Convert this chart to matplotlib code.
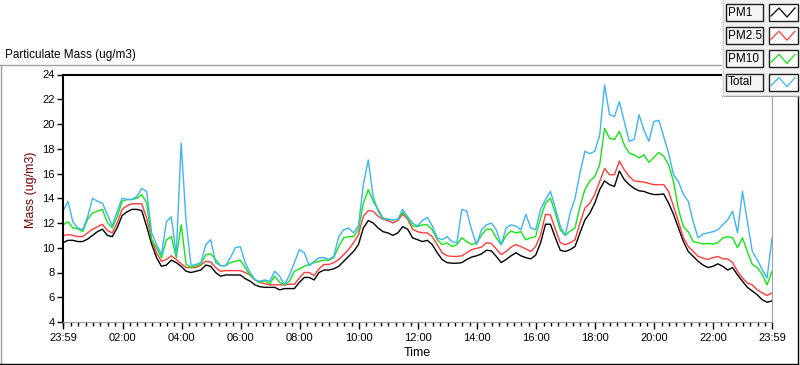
import numpy as np
import matplotlib
matplotlib.use('Agg')
import matplotlib.pyplot as plt
from matplotlib.patches import Rectangle

plt.rcParams['font.family'] = ['Liberation Sans', 'DejaVu Sans']

# minutes after 23:59, one reading every 10 minutes
minutes = np.arange(0, 1441, 10)

pm1 = [10.4, 10.6, 10.6, 10.5, 10.5, 10.7, 11.0, 11.3, 11.5, 11.0, 10.9, 11.6,
       12.6, 12.9, 13.1, 13.1, 13.0, 11.7, 10.3, 9.2, 8.5, 8.6, 9.0, 8.8,
       8.5, 8.1, 8.0, 8.1, 8.2, 8.6, 8.5, 8.0, 7.7, 7.8, 7.8, 7.8,
       7.8, 7.5, 7.3, 7.0, 6.85, 6.8, 6.8, 6.8, 6.6, 6.7, 6.7, 6.7,
       7.2, 7.6, 7.6, 7.4, 8.0, 8.2, 8.2, 8.3, 8.5, 8.9, 9.3, 9.7,
       10.25, 11.6, 12.2, 12.0, 11.6, 11.3, 11.2, 11.0, 11.2, 11.7, 11.5, 10.8,
       10.65, 10.5, 10.6, 10.25, 9.6, 9.05, 8.8, 8.75, 8.75, 8.8, 9.05, 9.25,
       9.35, 9.5, 9.8, 9.75, 9.3, 8.8, 9.05, 9.35, 9.6, 9.35, 9.2, 9.1,
       9.4, 10.4, 11.9, 11.9, 10.8, 9.8, 9.7, 9.85, 10.1, 11.2, 12.25, 12.8,
       13.6, 14.7, 15.4, 15.1, 14.95, 16.2, 15.5, 15.1, 14.8, 14.6, 14.55, 14.4,
       14.3, 14.3, 14.35, 13.6, 12.7, 11.6, 10.5, 9.7, 9.3, 8.9, 8.6, 8.4,
       8.5, 8.7, 8.5, 8.2, 8.4, 7.8, 7.3, 6.8, 6.5, 6.2, 5.8, 5.6,
       5.7]

pm25 = [11.0, 11.05, 11.0, 10.9, 10.9, 11.2, 11.5, 11.7, 11.9, 11.4, 11.2, 12.0,
        13.1, 13.4, 13.55, 13.55, 13.55, 12.4, 10.65, 9.6, 8.9, 9.05, 9.35, 9.05,
        8.7, 8.4, 8.4, 8.4, 8.6, 8.9, 8.85, 8.4, 8.1, 8.15, 8.15, 8.15,
        8.15, 8.0, 7.8, 7.4, 7.2, 7.1, 7.0, 7.0, 7.0, 7.0, 7.05, 7.05,
        7.55, 8.0, 8.0, 7.75, 8.3, 8.65, 8.65, 8.8, 9.05, 9.45, 9.85, 10.4,
        11.05, 12.55, 13.0, 12.95, 12.55, 12.3, 12.2, 12.0, 12.2, 12.7, 12.3, 11.5,
        11.3, 11.2, 11.2, 10.9, 10.25, 9.6, 9.35, 9.3, 9.3, 9.35, 9.6, 9.85,
        9.95, 10.05, 10.4, 10.35, 9.9, 9.45, 9.7, 10.05, 10.25, 10.1, 9.9, 9.7,
        10.1, 11.05, 12.7, 12.65, 11.5, 10.4, 10.25, 10.4, 10.65, 12.0, 13.2, 13.6,
        14.3, 15.35, 16.4, 15.9, 15.9, 17.0, 16.3, 15.75, 15.4, 15.35, 15.3, 15.2,
        15.1, 15.1, 15.1, 14.55, 13.35, 12.1, 10.8, 10.1, 9.7, 9.3, 9.15, 9.05,
        9.2, 9.3, 9.1, 9.1, 8.8, 8.1, 7.55, 7.15, 7.0, 6.6, 6.35, 6.15,
        6.35]

pm10 = [11.85, 12.1, 11.6, 11.55, 11.3, 12.3, 12.8, 12.95, 13.1, 12.05, 11.6, 12.5,
        13.75, 13.9, 13.9, 14.0, 14.3, 13.6, 10.65, 10.0, 9.2, 10.65, 10.9, 9.2,
        11.85, 8.65, 8.4, 8.55, 8.65, 9.45, 9.5, 9.05, 8.55, 8.55, 8.8, 8.9,
        9.0, 8.4, 7.8, 7.4, 7.2, 7.35, 7.1, 7.7, 7.2, 7.0, 7.3, 8.1,
        8.3, 8.5, 8.65, 8.8, 8.9, 9.0, 9.0, 9.2, 10.1, 10.8, 10.9, 10.9,
        11.45, 13.6, 14.7, 13.75, 13.1, 12.4, 12.3, 12.25, 12.3, 12.85, 12.4, 11.75,
        11.7, 11.85, 11.85, 11.45, 10.65, 10.25, 10.4, 10.1, 10.25, 10.8, 10.5, 10.25,
        10.4, 11.0, 11.5, 11.5, 10.8, 10.25, 11.0, 11.35, 11.2, 11.3, 10.65, 10.8,
        10.9, 12.4, 13.6, 14.0, 12.8, 11.45, 11.0, 11.35, 11.6, 13.35, 14.7, 15.4,
        15.75, 16.7, 19.65, 18.85, 18.75, 19.4, 18.3, 17.65, 17.5, 17.25, 17.5, 16.9,
        17.3, 17.7, 17.4, 16.7, 15.35, 13.1, 11.7, 11.3, 10.5, 10.4, 10.3, 10.35,
        10.3, 10.4, 10.8, 10.9, 10.8, 10.0, 10.8, 9.7, 8.65, 8.4, 7.85, 7.0,
        8.1]

total = [12.95, 13.75, 12.1, 11.6, 11.45, 12.5, 14.0, 13.75, 13.6, 12.7, 11.75, 12.95,
         14.0, 13.9, 13.9, 14.15, 14.8, 14.55, 11.2, 10.25, 9.45, 12.1, 12.5, 9.45,
         18.45, 12.1, 8.55, 8.65, 8.8, 10.25, 10.65, 8.8, 8.55, 8.55, 9.2, 10.0,
         10.1, 8.8, 8.0, 7.4, 7.3, 7.4, 7.3, 8.1, 7.7, 7.0, 7.8, 8.8,
         9.85, 9.6, 8.55, 8.9, 9.2, 9.2, 9.05, 9.3, 10.9, 11.45, 11.6, 11.2,
         11.75, 15.1, 17.1, 14.15, 12.95, 12.3, 12.3, 12.25, 12.3, 13.1, 12.5, 12.0,
         11.75, 12.2, 12.45, 11.75, 10.8, 10.65, 10.9, 10.5, 10.4, 13.1, 12.95, 11.45,
         10.25, 11.45, 11.85, 12.0, 11.45, 10.25, 11.6, 11.85, 11.75, 11.45, 12.7, 11.6,
         11.45, 13.1, 13.9, 14.55, 13.2, 11.75, 11.0, 12.8, 14.0, 16.05, 17.8, 17.6,
         17.8, 19.1, 23.15, 20.75, 20.6, 21.8, 20.2, 18.6, 18.75, 20.75, 19.5, 18.6,
         20.2, 20.3, 19.0, 17.65, 15.9, 15.35, 14.3, 13.75, 12.1, 10.8, 11.1, 11.2,
         11.3, 11.45, 11.85, 12.25, 12.95, 11.2, 14.55, 12.1, 9.7, 9.05, 8.25, 7.55,
         10.8]

series_names = ['PM1', 'PM2.5', 'PM10', 'Total']
series_colors = ['#000000', '#ff3c3c', '#14e614', '#3cb4f5']

tick_pos = [0, 121, 241, 361, 481, 601, 721, 841, 961, 1081, 1201, 1321, 1440]
tick_lab = ['23:59', '02:00', '04:00', '06:00', '08:00', '10:00', '12:00',
            '14:00', '16:00', '18:00', '20:00', '22:00', '23:59']
y_ticks = np.arange(4, 25, 2)

W, H = 800, 365
fig = plt.figure(figsize=(8, 3.65), dpi=100)

# frame lines in pixel coordinates
bg = fig.add_axes([0, 0, 1, 1], zorder=-5)
bg.set_xlim(0, W)
bg.set_ylim(H, 0)
bg.axis('off')
bg.plot([0, W], [65, 65], color='#a0a0a0', lw=1)
bg.plot([0.5, 0.5], [65, 364], color='#a0a0a0', lw=1)
bg.plot([0, 798], [363.5, 363.5], color='#000000', lw=1)
bg.plot([797.5, 797.5], [97, 364], color='#000000', lw=1)
bg.text(5, 55, 'Particulate Mass (ug/m3)', fontsize=8.5, va='center', ha='left')

ax = fig.add_axes([63 / W, 1 - 322 / H, (772 - 63) / W, (322 - 74.5) / H])
for ys, c in zip([pm1, pm25, pm10, total], series_colors):
    ax.plot(minutes, ys, color=c, lw=1.0)

ax.set_xlim(0, 1440)
ax.set_ylim(4, 24)
ax.set_yticks(y_ticks)
ax.set_xticks(tick_pos)
ax.set_xticklabels(tick_lab)
ax.set_xticks(np.arange(1, 1441, 15), minor=True)
ax.tick_params(axis='both', labelsize=8, colors='#000000', direction='out')
ax.tick_params(axis='x', which='major', length=5, width=1, pad=3)
ax.tick_params(axis='x', which='minor', length=3, width=1)
ax.tick_params(axis='y', length=4, width=1, pad=2)
ax.spines['left'].set_color('#000000')
ax.spines['left'].set_linewidth(1.5)
ax.spines['top'].set_color('#000000')
ax.spines['top'].set_linewidth(1.5)
ax.spines['right'].set_color('#a0a0a0')
ax.spines['bottom'].set_color('#a0a0a0')
ax.set_xlabel('Time', fontsize=9)
ax.xaxis.set_label_coords(0.5, -(347 - 322) / 247.5)
ax.set_ylabel('Mass (ug/m3)', fontsize=9, color='#7a0000')
ax.yaxis.set_label_coords(-(63 - 37) / 709, (322 - 190) / 247.5)

# legend panel, drawn like the instrument front panel
lg = fig.add_axes([722 / W, 1 - 97 / H, 78 / W, 97 / H], zorder=5)
lg.set_xlim(722, 800)
lg.set_ylim(97, 0)
lg.axis('off')
lg.add_patch(Rectangle((722, 0), 78, 96, facecolor='#f0f0f0', edgecolor='none'))
lg.plot([722, 800], [95.5, 95.5], color='#a0a0a0', lw=1)
lg.plot([722.5, 722.5], [0, 96], color='#d8d8d8', lw=1)
for i, (name, c) in enumerate(zip(series_names, series_colors)):
    top = 4 + 23.2 * i
    lg.add_patch(Rectangle((725.5, top), 37, 17, facecolor='#f4f4f4',
                           edgecolor='#202020', lw=1))
    lg.text(727.5, top + 8.8, name, fontsize=8.5, va='center', ha='left')
    lg.add_patch(Rectangle((768.5, top), 29, 17, facecolor='#ffffff',
                           edgecolor='#202020', lw=1))
    lg.plot([771, 779, 787, 795], [top + 12, top + 4, top + 13, top + 4],
            color=c, lw=0.9)

fig.savefig('out.png', dpi=100)
